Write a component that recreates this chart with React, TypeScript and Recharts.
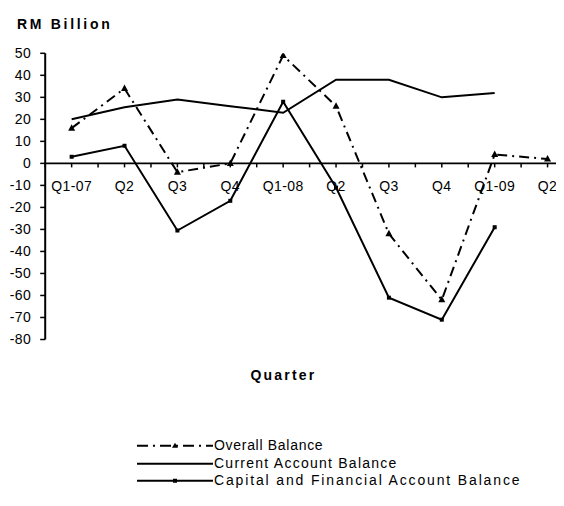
import React from 'react';
import { LineChart, Line, XAxis, YAxis, ReferenceLine, Legend } from 'recharts';

const quarters = ['Q1-07', 'Q2', 'Q3', 'Q4', 'Q1-08', 'Q2', 'Q3', 'Q4', 'Q1-09', 'Q2'];
const overallBalance = [16, 34, -4, 0, 49, 26, -32, -62, 4, 2];
const currentAccountBalance = [20, 25.5, 29, 26, 23, 38, 38, 30, 32, null];
const capitalFinancialBalance = [3, 8, -30.5, -17, 28, -11, -61, -71, -29, null];
const yTicks = [50, 40, 30, 20, 10, 0, -10, -20, -30, -40, -50, -60, -70, -80];

const seriesNames = {
  overall: 'Overall Balance',
  current: 'Current Account Balance',
  capital: 'Capital and Financial Account Balance',
};

const data = quarters.map((q, i) => ({
  quarter: q,
  overall: overallBalance[i],
  current: currentAccountBalance[i],
  capital: capitalFinancialBalance[i],
}));

const FONT = '"Liberation Sans", Arial, sans-serif';
const CHART_W = 566;
const CHART_H = 498;
const X_AXIS_H = 30;
const MARGIN = { top: 45.3, right: 0, bottom: 166.5 - X_AXIS_H, left: 0 };
const Y_AXIS_W = 37.2;
const Y_MIN = -80;
const Y_MAX = 50;
const PLOT_H = CHART_H - MARGIN.top - MARGIN.bottom - X_AXIS_H;
const ZERO_Y = MARGIN.top + (PLOT_H * Y_MAX) / (Y_MAX - Y_MIN);
const PLOT_W = CHART_W - Y_AXIS_W - MARGIN.left - MARGIN.right;
const BAND = PLOT_W / quarters.length;
const OVERALL_DASH = '10 5 2 5';

const XTick = (props: any) => {
  const { x, payload } = props;
  return (
    <g>
      <line x1={x} x2={x} y1={ZERO_Y} y2={ZERO_Y + 4} stroke="#000" strokeWidth={1.5} />
      <line x1={x - BAND / 2} x2={x - BAND / 2} y1={ZERO_Y} y2={ZERO_Y + 4} stroke="#000" strokeWidth={1.5} />
      <text
        x={x}
        y={ZERO_Y + 18}
        dy="0.71em"
        textAnchor="middle"
        fill="#000"
        fontFamily={FONT}
        fontSize={14}
        letterSpacing={0.4}
      >
        {payload.value}
      </text>
    </g>
  );
};

const TriangleDot = (props: any) => {
  const { cx, cy, value, index } = props;
  if (cx == null || cy == null || value == null) return <g key={`t${index}`} />;
  return (
    <polygon
      key={`t${index}`}
      points={`${cx},${cy - 4} ${cx - 3.5},${cy + 2.5} ${cx + 3.5},${cy + 2.5}`}
      fill="#000"
    />
  );
};

const SquareDot = (props: any) => {
  const { cx, cy, value, index } = props;
  if (cx == null || cy == null || value == null) return <g key={`s${index}`} />;
  return <rect key={`s${index}`} x={cx - 2} y={cy - 2} width={4} height={4} fill="#000" />;
};

const LegendContent = () => {
  const rowH = 17.5;
  const sampleW = 76;
  const textStyle = (spacing: number): React.CSSProperties => ({
    fontFamily: FONT,
    fontSize: 14,
    letterSpacing: spacing,
    color: '#000',
    lineHeight: `${rowH}px`,
    marginLeft: 1,
    whiteSpace: 'nowrap',
  });
  const row = (sample: React.ReactNode, label: string, spacing: number) => (
    <div style={{ display: 'flex', alignItems: 'center', height: rowH }}>
      <svg width={sampleW} height={rowH} style={{ display: 'block' }}>
        {sample}
      </svg>
      <span style={textStyle(spacing)}>{label}</span>
    </div>
  );
  const mid = rowH / 2;
  return (
    <div>
      {row(
        <g>
          <line x1={0} x2={sampleW} y1={mid} y2={mid} stroke="#000" strokeWidth={2} strokeDasharray="11 5 2 5" />
          <polygon points={`${38},${mid - 3} ${35},${mid + 2} ${41},${mid + 2}`} fill="#000" />
        </g>,
        seriesNames.overall,
        0.7
      )}
      {row(<line x1={0} x2={sampleW} y1={mid} y2={mid} stroke="#000" strokeWidth={2} />, seriesNames.current, 1.25)}
      {row(
        <g>
          <line x1={0} x2={sampleW} y1={mid} y2={mid} stroke="#000" strokeWidth={2} />
          <rect x={36} y={mid - 2} width={4} height={4} fill="#000" />
        </g>,
        seriesNames.capital,
        1.85
      )}
    </div>
  );
};

export default function App() {
  return (
    <div style={{ position: 'relative', width: 556, height: CHART_H, overflow: 'hidden' }}>
      <div
        style={{
          position: 'absolute',
          left: 9,
          top: 7,
          fontFamily: FONT,
          fontWeight: 'bold',
          fontSize: 14,
          letterSpacing: 2.7,
          color: '#000',
          lineHeight: '18px',
          zIndex: 2,
        }}
      >
        RM Billion
      </div>
      <div
        style={{
          position: 'absolute',
          left: 0,
          width: 551,
          top: 358,
          textAlign: 'center',
          fontFamily: FONT,
          fontWeight: 'bold',
          fontSize: 14,
          letterSpacing: 2.2,
          color: '#000',
          lineHeight: '18px',
          zIndex: 2,
        }}
      >
        Quarter
      </div>
      <LineChart width={CHART_W} height={CHART_H} data={data} margin={MARGIN}>
        <XAxis
          dataKey="quarter"
          height={X_AXIS_H}
          axisLine={false}
          tickLine={false}
          interval={0}
          padding={{ left: BAND / 2, right: BAND / 2 }}
          tick={<XTick />}
        />
        <YAxis
          type="number"
          width={Y_AXIS_W}
          domain={[Y_MIN, Y_MAX]}
          ticks={yTicks}
          interval={0}
          allowDataOverflow
          tickSize={5}
          tickMargin={9}
          axisLine={{ stroke: '#000', strokeWidth: 2 }}
          tickLine={{ stroke: '#000', strokeWidth: 1.5 }}
          tick={{ fill: '#000', fontFamily: FONT, fontSize: 14, letterSpacing: 0.4 }}
        />
        <ReferenceLine y={0} stroke="#000" strokeWidth={1.8} />
        <Line
          type="linear"
          dataKey="current"
          name={seriesNames.current}
          stroke="#000"
          strokeWidth={2}
          dot={false}
          activeDot={false}
          isAnimationActive={false}
        />
        <Line
          type="linear"
          dataKey="capital"
          name={seriesNames.capital}
          stroke="#000"
          strokeWidth={2}
          dot={SquareDot}
          activeDot={false}
          isAnimationActive={false}
        />
        <Line
          type="linear"
          dataKey="overall"
          name={seriesNames.overall}
          stroke="#000"
          strokeWidth={2}
          strokeDasharray={OVERALL_DASH}
          dot={TriangleDot}
          activeDot={false}
          isAnimationActive={false}
        />
        <Legend
          layout="vertical"
          align="center"
          verticalAlign="middle"
          content={LegendContent}
          wrapperStyle={{ position: 'absolute', left: 129, top: 429, width: 420, height: 54 }}
        />
      </LineChart>
    </div>
  );
}
